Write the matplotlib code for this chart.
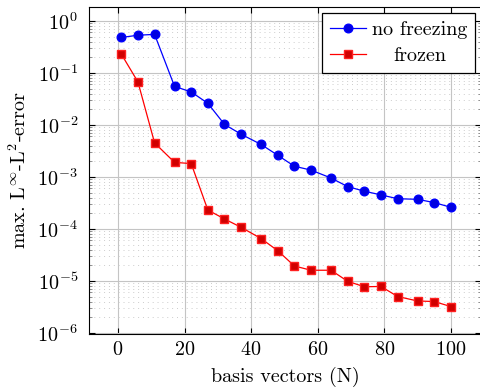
import matplotlib
matplotlib.use("Agg")
import matplotlib.pyplot as plt
from matplotlib.ticker import LogLocator, MultipleLocator, NullFormatter

plt.rcParams['font.family'] = 'serif'
plt.rcParams['font.serif'] = ['cmr10']
plt.rcParams['mathtext.fontset'] = 'cm'
plt.rcParams['axes.formatter.use_mathtext'] = True

# data
n_basis = [1, 6, 11, 17, 22, 27, 32, 37, 43, 48, 53, 58, 64, 69, 74, 79, 84, 90, 95, 100]
err_no_freezing = [0.48, 0.53, 0.55, 0.055, 0.043, 0.026, 0.0102, 0.0066, 0.0042, 0.0026,
                   0.0016, 0.00135, 9.5e-4, 6.5e-4, 5.3e-4, 4.5e-4, 3.8e-4, 3.7e-4, 3.2e-4, 2.6e-4]
err_frozen = [0.23, 0.067, 0.0045, 0.0019, 0.0018, 2.3e-4, 1.55e-4, 1.07e-4, 6.5e-5, 3.8e-5,
              1.93e-5, 1.6e-5, 1.6e-5, 9.8e-6, 7.7e-6, 7.8e-6, 5.0e-6, 4.1e-6, 4.0e-6, 3.2e-6]

fs = 14.5

fig = plt.figure(figsize=(4.81, 3.89), dpi=100)
# right spine sits just past the picture edge, as in the original
ax = fig.add_axes([89 / 481, 1 - 334 / 389, (481.5 - 89) / 481, (334 - 7) / 389])

ax.plot(n_basis, err_no_freezing, color='#0000ff', lw=0.9, marker='o', ms=6.2,
        mfc='#0000e0', mec='#0000ff', label='no freezing', zorder=3)
ax.plot(n_basis, err_frozen, color='#ff0000', lw=0.9, marker='s', ms=5.9,
        mfc='#d00000', mec='#ff2020', label='frozen', zorder=3)

ax.set_yscale('log')
ax.set_xlim(-8.7, 109.2)
ax.set_ylim(9.5e-7, 1.85)
ax.xaxis.set_major_locator(MultipleLocator(20))
ax.yaxis.set_major_locator(LogLocator(base=10, numticks=20))
ax.yaxis.set_minor_locator(LogLocator(base=10, subs=range(2, 10), numticks=20))
ax.yaxis.set_minor_formatter(NullFormatter())

ax.grid(which='major', color='#c4c4c4', lw=0.8)
ax.grid(axis='y', which='minor', color='#cccccc', lw=0.7, ls=(0, (1, 4)))
ax.set_axisbelow(True)
ax.tick_params(which='both', direction='in', top=True, right=True, labelsize=fs)
ax.tick_params(which='major', length=4)
ax.tick_params(which='minor', length=2, color='#808080', labelleft=False, labelbottom=False)
ax.tick_params(axis='y', pad=8)
ax.tick_params(axis='x', pad=5)

ax.set_xlabel('basis vectors (N)', fontsize=fs, labelpad=6)
ax.set_ylabel(r'max. L$^\infty$-L$^2$-error', fontsize=fs, labelpad=5)

leg = ax.legend(loc='upper right', fontsize=fs, fancybox=False, edgecolor='black',
                framealpha=1, borderaxespad=0.3, handlelength=1.8, handletextpad=0.3,
                borderpad=0.4, labelspacing=0.4)
leg.get_frame().set_linewidth(0.9)

# centre the shorter legend label under the longer one, like pgfplots does
renderer = fig.canvas.get_renderer()
texts = leg.get_texts()
widths = [t.get_window_extent(renderer).width for t in texts]
wmax = max(widths)
for t, w in zip(texts, widths):
    t.set_x((wmax - w) / 2)

fig.savefig('out.png', dpi=100)
